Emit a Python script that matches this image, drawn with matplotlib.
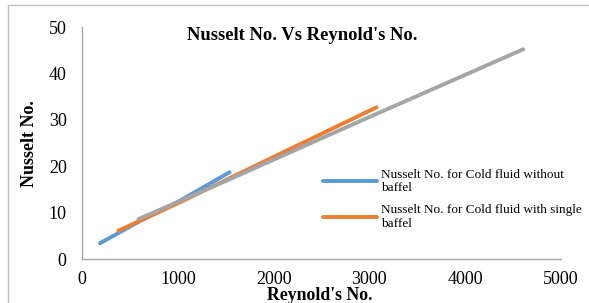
import matplotlib
matplotlib.use("Agg")
import matplotlib.pyplot as plt
from matplotlib.patches import Rectangle

# Reynold's No. / Nusselt No.
re_without = [188, 600, 1000, 1541]
nu_without = [3.4, 8.1, 12.3, 18.7]
re_single = [380, 1000, 2000, 3075]
nu_single = [6.1, 12.0, 22.0, 32.7]
re_third = [589, 1500, 3000, 4606]
nu_third = [8.6, 16.8, 30.6, 45.2]

labels = ["Nusselt No. for Cold fluid without\nbaffel",
          "Nusselt No. for Cold fluid with single\nbaffel"]
xticks = [0, 1000, 2000, 3000, 4000, 5000]
yticks = [0, 10, 20, 30, 40, 50]

plt.rcParams["font.family"] = ["Liberation Serif", "DejaVu Serif"]

fig = plt.figure(figsize=(5.89, 3.03), dpi=100)
fig.patches.append(Rectangle((8 / 589, -0.1), 1.2, 1.1 - 5 / 303, transform=fig.transFigure,
                             fill=False, edgecolor="#bfbfbf", linewidth=1.0))
ax = fig.add_axes([82 / 589, 44 / 303, 479 / 589, 232 / 303])

ax.plot(re_without, nu_without, color="#5B9BD5", linewidth=2.8, solid_capstyle="round", label=labels[0])
ax.plot(re_single, nu_single, color="#ED7D31", linewidth=2.8, solid_capstyle="round", label=labels[1])
ax.plot(re_third, nu_third, color="#A5A5A5", linewidth=2.8, solid_capstyle="round", label="_nolegend_")

ax.set_xlim(0, 5000)
ax.set_ylim(0, 50)
ax.set_xticks(xticks)
ax.set_yticks(yticks)
ax.tick_params(length=0, labelsize=13)
ax.tick_params(axis="x", pad=9)
ax.tick_params(axis="y", pad=11)
for side in ("top", "right"):
    ax.spines[side].set_visible(False)
for side in ("left", "bottom"):
    ax.spines[side].set_color("#a6a6a6")
    ax.spines[side].set_linewidth(1.0)

ax.legend(loc="upper left", bbox_to_anchor=(0.503, 0.39), frameon=False, fontsize=9.5,
          handlelength=4.1, handletextpad=0.3, labelspacing=0.75, borderaxespad=0, borderpad=0)

fig.text(302 / 589, 1 - 36 / 303, "Nusselt No. Vs Reynold's No.", ha="center", va="center",
         fontsize=13.4, fontweight="bold")
fig.text(320 / 589, 1 - 295 / 303, "Reynold's No.", ha="center", va="center",
         fontsize=12.8, fontweight="bold")
fig.text(30 / 589, 1 - 144 / 303, "Nusselt No.", ha="center", va="center", rotation=90,
         fontsize=13, fontweight="bold")

fig.savefig("out.png", dpi=100)
